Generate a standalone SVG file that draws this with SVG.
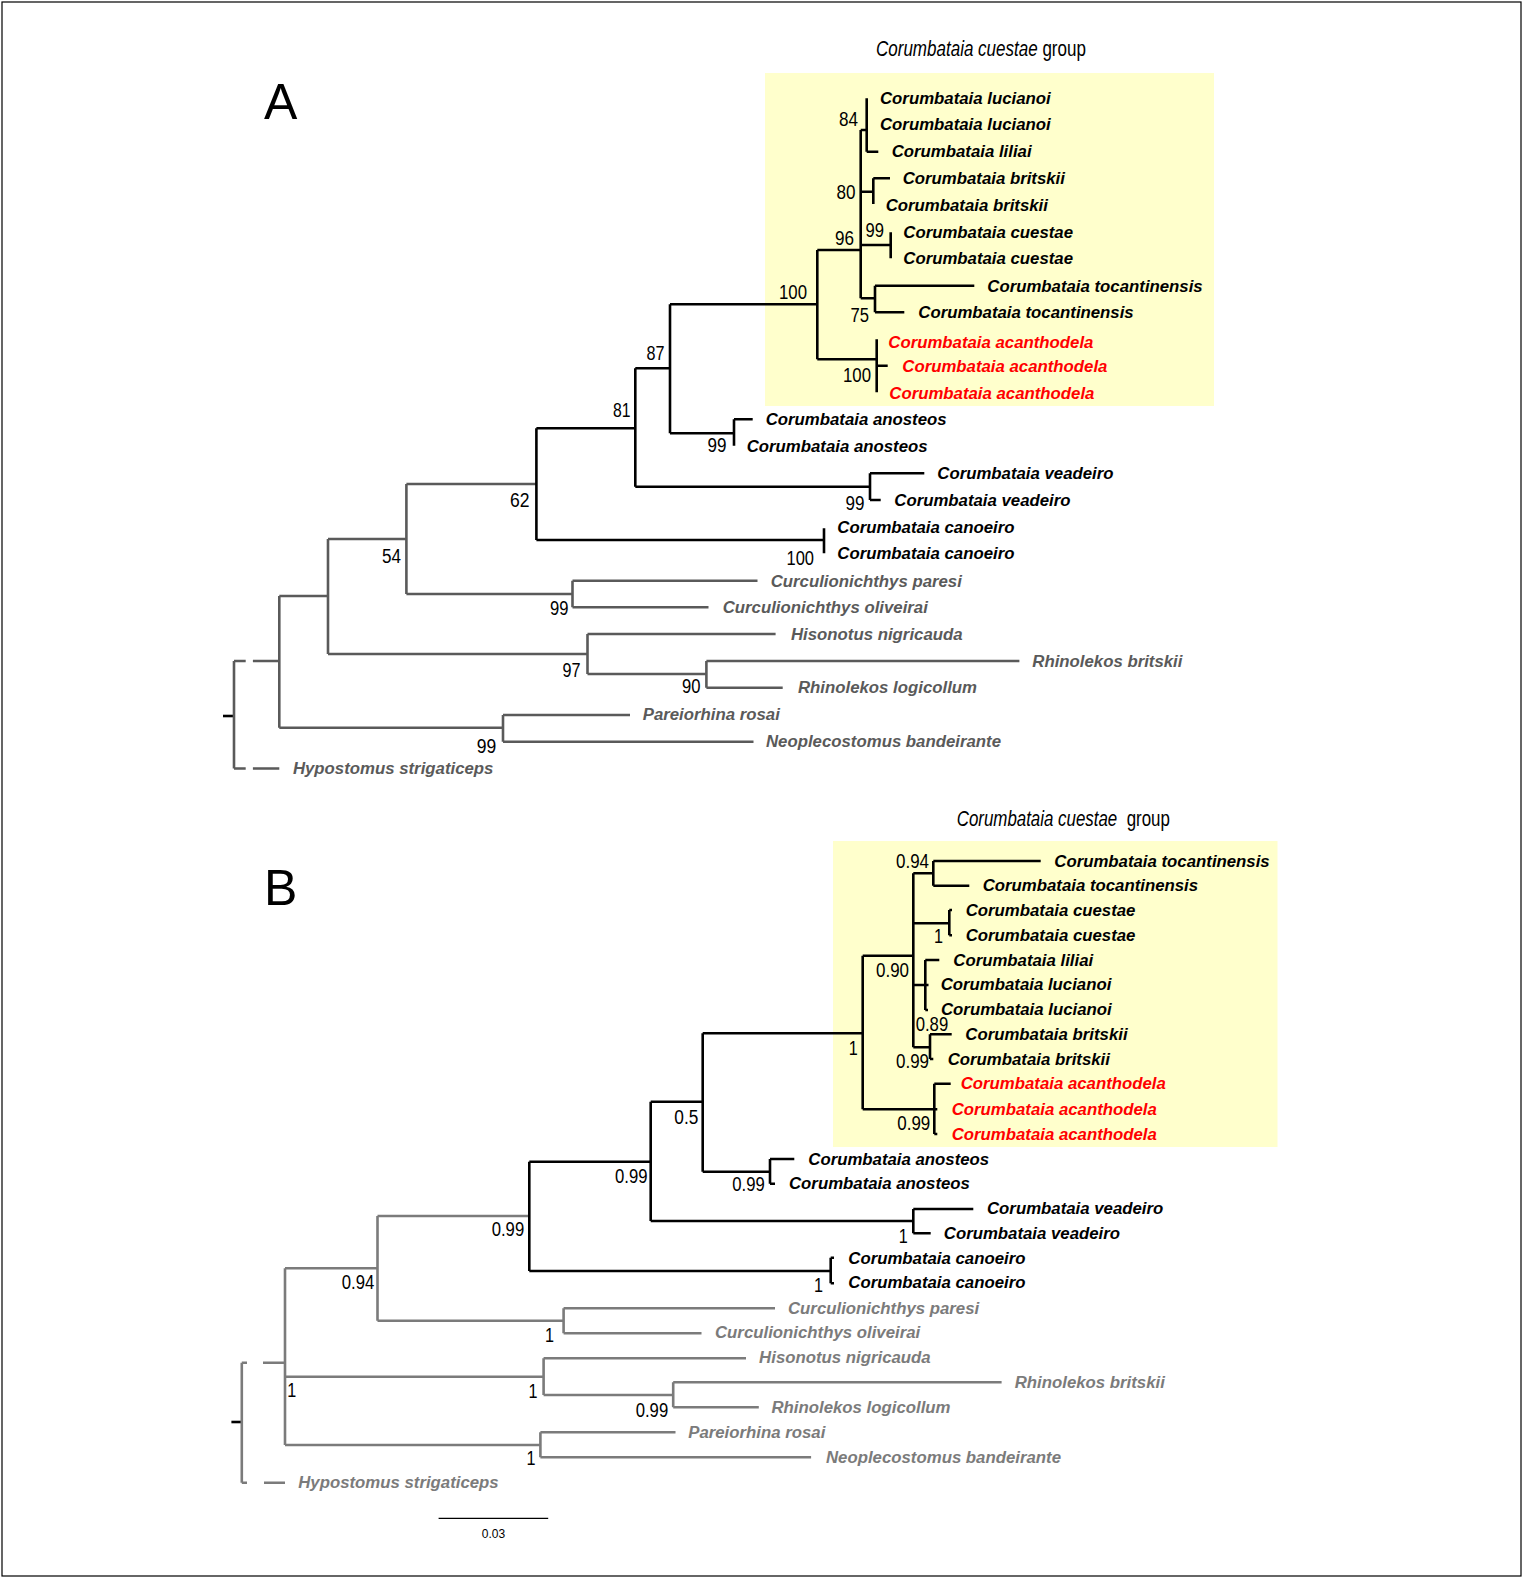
<svg xmlns="http://www.w3.org/2000/svg" width="1523" height="1579" viewBox="0 0 1523 1579">
<style>
.k{fill:none;stroke:#000;stroke-width:2.6}
.g{fill:none;stroke:#5a5a5a;stroke-width:2.6}
.g2{fill:none;stroke:#7b7b7b;stroke-width:2.6}
.t{font-family:"Liberation Sans",Arial,sans-serif;font-weight:bold;font-style:italic;font-size:16.8px;fill:#000}
.r{fill:#ff0000}
.ga{fill:#5a5a5a}
.gb{fill:#7b7b7b}
.n{font-family:"Liberation Sans",Arial,sans-serif;font-size:20px;fill:#000}
.ti{font-family:"Liberation Sans",Arial,sans-serif;font-size:22px;fill:#000}
.big{font-family:"Liberation Sans",Arial,sans-serif;font-size:50px;fill:#000}
</style>
<rect x="0" y="0" width="1523" height="1579" fill="#fff"/>
<rect x="2" y="2" width="1519" height="1574" fill="none" stroke="#000" stroke-width="1.2"/>

<!-- Panel A -->
<rect x="765" y="73" width="449" height="333" fill="#ffffcc"/>
<text class="big" x="264" y="119">A</text>
<text class="ti" transform="translate(876,56) scale(0.7735,1)"><tspan font-style="italic">Corumbataia cuestae</tspan> group</text>

<g id="connectors-A">
<path class="k" d="M223,716H234"/>
<path class="g" d="M234,661V768.5M234,661H245.7M252.9,661H279.3M234,768.5H245.7M252.9,768.5H279.3
M279.3,596V727.7M279.3,596H328M328,539V654M328,539H406.4M406.4,484V594M406.4,484H536.4
M406.4,594H572.5M572.5,580.7V607.3M572.5,580.7H757.5M572.5,607.3H708.5
M328,654H587.5M587.5,634V674M587.5,634H775.6M587.5,674H706.4M706.4,661V687.7M706.4,661H1019.4M706.4,687.7H782.7
M279.3,727.7H503M503,715V741.7M503,715H630M503,741.7H753.5"/>
<path class="k" d="M536.4,428.3V540M536.4,428.3H635.3M536.4,540H824M824,528.3V553.3
M635.3,368.3V486.7M635.3,368.3H670M635.3,486.7H870M870,473.3V500M870,473.3H924.3M870,500H880.7
M670,304.3V433.3M670,304.3H817.3M670,433.3H734M734,419.3V445.7M734,419.3H752.7
M817.3,250V359.3M817.3,250H860.7M817.3,359.3H876.7
M860.7,130V298.3M860.7,130H866.7M866.7,98.3V151.7M866.7,151.7H878.3
M860.7,191.7H873.3M873.3,178.3V204M873.3,178.3H890
M860.7,245H890.7M890.7,232.3V258.3
M860.7,298.3H875M875,285.7V312.3M875,285.7H974.3M875,312.3H904.3
M876.7,339.3V392.3M876.7,365.7H887.7"/>
</g>

<g id="support-A">
<text class="n" x="839" y="126" textLength="19" lengthAdjust="spacingAndGlyphs">84</text>
<text class="n" x="836.5" y="199" textLength="19" lengthAdjust="spacingAndGlyphs">80</text>
<text class="n" x="835" y="245" textLength="19" lengthAdjust="spacingAndGlyphs">96</text>
<text class="n" x="865.5" y="237" textLength="18.5" lengthAdjust="spacingAndGlyphs">99</text>
<text class="n" x="779" y="299" textLength="28" lengthAdjust="spacingAndGlyphs">100</text>
<text class="n" x="850.5" y="321.7" textLength="18.5" lengthAdjust="spacingAndGlyphs">75</text>
<text class="n" x="843" y="381.7" textLength="28" lengthAdjust="spacingAndGlyphs">100</text>
<text class="n" x="646.5" y="360" textLength="18" lengthAdjust="spacingAndGlyphs">87</text>
<text class="n" x="613" y="417" textLength="17.5" lengthAdjust="spacingAndGlyphs">81</text>
<text class="n" x="707.5" y="451.7" textLength="19" lengthAdjust="spacingAndGlyphs">99</text>
<text class="n" x="845.5" y="510" textLength="19" lengthAdjust="spacingAndGlyphs">99</text>
<text class="n" x="510" y="507" textLength="19.5" lengthAdjust="spacingAndGlyphs">62</text>
<text class="n" x="786.5" y="565" textLength="27.5" lengthAdjust="spacingAndGlyphs">100</text>
<text class="n" x="382" y="563" textLength="19" lengthAdjust="spacingAndGlyphs">54</text>
<text class="n" x="550" y="615" textLength="18.5" lengthAdjust="spacingAndGlyphs">99</text>
<text class="n" x="562.5" y="676.7" textLength="18" lengthAdjust="spacingAndGlyphs">97</text>
<text class="n" x="682" y="693" textLength="18.5" lengthAdjust="spacingAndGlyphs">90</text>
<text class="n" x="476.8" y="753" textLength="19.5" lengthAdjust="spacingAndGlyphs">99</text>
</g>

<g id="A-lucianoi-1"><text class="t" x="880" y="104">Corumbataia lucianoi</text></g>
<g id="A-lucianoi-2"><text class="t" x="880" y="130">Corumbataia lucianoi</text></g>
<g id="A-liliai"><text class="t" x="891.7" y="157">Corumbataia liliai</text></g>
<g id="A-britskii-1"><text class="t" x="902.7" y="184">Corumbataia britskii</text></g>
<g id="A-britskii-2"><text class="t" x="885.7" y="210.5">Corumbataia britskii</text></g>
<g id="A-cuestae-1"><text class="t" x="903.3" y="237.5">Corumbataia cuestae</text></g>
<g id="A-cuestae-2"><text class="t" x="903.3" y="264">Corumbataia cuestae</text></g>
<g id="A-tocantinensis-1"><text class="t" x="987.3" y="291.5">Corumbataia tocantinensis</text></g>
<g id="A-tocantinensis-2"><text class="t" x="918.3" y="318">Corumbataia tocantinensis</text></g>
<g id="A-acanthodela-1"><text class="t r" x="888.3" y="347.5">Corumbataia acanthodela</text></g>
<g id="A-acanthodela-2"><text class="t r" x="902.3" y="371.5">Corumbataia acanthodela</text></g>
<g id="A-acanthodela-3"><text class="t r" x="889.3" y="398.5">Corumbataia acanthodela</text></g>
<g id="A-anosteos-1"><text class="t" x="765.7" y="425">Corumbataia anosteos</text></g>
<g id="A-anosteos-2"><text class="t" x="746.7" y="452">Corumbataia anosteos</text></g>
<g id="A-veadeiro-1"><text class="t" x="937.3" y="479">Corumbataia veadeiro</text></g>
<g id="A-veadeiro-2"><text class="t" x="894.3" y="506">Corumbataia veadeiro</text></g>
<g id="A-canoeiro-1"><text class="t" x="837.3" y="532.5">Corumbataia canoeiro</text></g>
<g id="A-canoeiro-2"><text class="t" x="837.3" y="559">Corumbataia canoeiro</text></g>
<g id="A-paresi"><text class="t ga" x="770.7" y="586.5">Curculionichthys paresi</text></g>
<g id="A-oliveirai"><text class="t ga" x="722.7" y="613">Curculionichthys oliveirai</text></g>
<g id="A-hisonotus"><text class="t ga" x="791" y="640">Hisonotus nigricauda</text></g>
<g id="A-rhinolekos-britskii"><text class="t ga" x="1032.3" y="666.5">Rhinolekos britskii</text></g>
<g id="A-rhinolekos-logicollum"><text class="t ga" x="798" y="693">Rhinolekos logicollum</text></g>
<g id="A-pareiorhina"><text class="t ga" x="642.7" y="720">Pareiorhina rosai</text></g>
<g id="A-neoplecostomus"><text class="t ga" x="766" y="747">Neoplecostomus bandeirante</text></g>
<g id="A-hypostomus"><text class="t ga" x="292.9" y="774">Hypostomus strigaticeps</text></g>

<!-- Panel B -->
<rect x="833" y="841" width="444.5" height="306" fill="#ffffcc"/>
<text class="big" x="264" y="905">B</text>
<text class="ti" transform="translate(956.7,826) scale(0.768,1)"><tspan font-style="italic">Corumbataia cuestae</tspan>&#160; group</text>

<g id="connectors-B">
<path class="k" d="M231.4,1422H241.8"/>
<path class="g2" d="M241.8,1362.7V1482.7M241.8,1362.7H247M263,1362.7H285M241.8,1482.7H247M264,1482.7H285
M285,1268.3V1445M285,1268.3H377.5M377.5,1216V1320.7M377.5,1216H529.3
M377.5,1320.7H563.6M563.6,1308.3V1333.3M563.6,1308.3H775M563.6,1333.3H701.5
M285,1376.7H543.6M543.6,1358.3V1395M543.6,1358.3H746M543.6,1395H673.2
M673.2,1382.3V1407.3M673.2,1382.3H1001.6M673.2,1407.3H758.8
M285,1445H540.4M540.4,1432.3V1457.3M540.4,1432.3H675.5M540.4,1457.3H811.1"/>
<path class="k" d="M529.3,1161.7V1271M529.3,1161.7H650.7M650.7,1101.7V1221
M529.3,1271H830.7M830.7,1257.7V1283.3M830.7,1257.7H834M830.7,1283.3H834
M650.7,1101.7H702.7M702.7,1033.3V1171.7
M650.7,1221H913.3M913.3,1209V1233.3M913.3,1209H973.3M913.3,1233.3H930.7
M702.7,1171.7H770M770,1159V1183.7M770,1159H794.3M770,1183.7H775
M702.7,1033.3H862.7M862.7,955.7V1109.3
M862.7,955.7H913.3M913.3,873.3V1047.3
M913.3,873.3H933.3M933.3,861V885.7M933.3,861H1040.7M933.3,885.7H969.3
M913.3,923.3H949.3M949.3,910V935.3M949.3,910H952M949.3,935.3H952
M913.3,985H928.5M925.3,960V1010M925.3,960H939.3M925.3,1010H928
M913.3,1047.3H930M930,1034.3V1059M930,1034.3H951.7M930,1059H933.3
M862.7,1109.3H937.3M934.3,1083.7V1134M934.3,1083.7H950.7M934.3,1134H937.3"/>
</g>

<g id="support-B">
<text class="n" x="896" y="868.3" textLength="33" lengthAdjust="spacingAndGlyphs">0.94</text>
<text class="n" x="934" y="942.7" textLength="9" lengthAdjust="spacingAndGlyphs">1</text>
<text class="n" x="876" y="976.7" textLength="33" lengthAdjust="spacingAndGlyphs">0.90</text>
<text class="n" x="915.7" y="1031" textLength="32.5" lengthAdjust="spacingAndGlyphs">0.89</text>
<text class="n" x="896" y="1068.3" textLength="33" lengthAdjust="spacingAndGlyphs">0.99</text>
<text class="n" x="848.7" y="1055" textLength="9" lengthAdjust="spacingAndGlyphs">1</text>
<text class="n" x="897.3" y="1130" textLength="33" lengthAdjust="spacingAndGlyphs">0.99</text>
<text class="n" x="674.3" y="1124" textLength="24" lengthAdjust="spacingAndGlyphs">0.5</text>
<text class="n" x="732.3" y="1190.7" textLength="32.5" lengthAdjust="spacingAndGlyphs">0.99</text>
<text class="n" x="615" y="1182.7" textLength="32.5" lengthAdjust="spacingAndGlyphs">0.99</text>
<text class="n" x="898.7" y="1242.7" textLength="9" lengthAdjust="spacingAndGlyphs">1</text>
<text class="n" x="491.7" y="1236" textLength="32.5" lengthAdjust="spacingAndGlyphs">0.99</text>
<text class="n" x="814" y="1291.7" textLength="9" lengthAdjust="spacingAndGlyphs">1</text>
<text class="n" x="341.8" y="1289.3" textLength="32.5" lengthAdjust="spacingAndGlyphs">0.94</text>
<text class="n" x="545" y="1341.7" textLength="9" lengthAdjust="spacingAndGlyphs">1</text>
<text class="n" x="287.3" y="1397" textLength="9" lengthAdjust="spacingAndGlyphs">1</text>
<text class="n" x="528.4" y="1398" textLength="9" lengthAdjust="spacingAndGlyphs">1</text>
<text class="n" x="635.7" y="1416.7" textLength="32.5" lengthAdjust="spacingAndGlyphs">0.99</text>
<text class="n" x="526.6" y="1465" textLength="9" lengthAdjust="spacingAndGlyphs">1</text>
</g>

<g id="B-tocantinensis-1"><text class="t" x="1054.3" y="866.5">Corumbataia tocantinensis</text></g>
<g id="B-tocantinensis-2"><text class="t" x="982.7" y="891">Corumbataia tocantinensis</text></g>
<g id="B-cuestae-1"><text class="t" x="965.7" y="916">Corumbataia cuestae</text></g>
<g id="B-cuestae-2"><text class="t" x="965.7" y="941">Corumbataia cuestae</text></g>
<g id="B-liliai"><text class="t" x="953.3" y="965.5">Corumbataia liliai</text></g>
<g id="B-lucianoi-1"><text class="t" x="940.7" y="990">Corumbataia lucianoi</text></g>
<g id="B-lucianoi-2"><text class="t" x="941" y="1014.5">Corumbataia lucianoi</text></g>
<g id="B-britskii-1"><text class="t" x="965.3" y="1040">Corumbataia britskii</text></g>
<g id="B-britskii-2"><text class="t" x="947.7" y="1064.5">Corumbataia britskii</text></g>
<g id="B-acanthodela-1"><text class="t r" x="960.7" y="1089">Corumbataia acanthodela</text></g>
<g id="B-acanthodela-2"><text class="t r" x="951.7" y="1114.5">Corumbataia acanthodela</text></g>
<g id="B-acanthodela-3"><text class="t r" x="951.7" y="1139.5">Corumbataia acanthodela</text></g>
<g id="B-anosteos-1"><text class="t" x="808.3" y="1164.5">Corumbataia anosteos</text></g>
<g id="B-anosteos-2"><text class="t" x="789" y="1189">Corumbataia anosteos</text></g>
<g id="B-veadeiro-1"><text class="t" x="987" y="1213.5">Corumbataia veadeiro</text></g>
<g id="B-veadeiro-2"><text class="t" x="943.8" y="1238.5">Corumbataia veadeiro</text></g>
<g id="B-canoeiro-1"><text class="t" x="848.3" y="1264">Corumbataia canoeiro</text></g>
<g id="B-canoeiro-2"><text class="t" x="848.3" y="1288">Corumbataia canoeiro</text></g>
<g id="B-paresi"><text class="t gb" x="788" y="1314">Curculionichthys paresi</text></g>
<g id="B-oliveirai"><text class="t gb" x="715" y="1338">Curculionichthys oliveirai</text></g>
<g id="B-hisonotus"><text class="t gb" x="759.1" y="1363">Hisonotus nigricauda</text></g>
<g id="B-rhinolekos-britskii"><text class="t gb" x="1014.7" y="1388">Rhinolekos britskii</text></g>
<g id="B-rhinolekos-logicollum"><text class="t gb" x="771.5" y="1413">Rhinolekos logicollum</text></g>
<g id="B-pareiorhina"><text class="t gb" x="688.2" y="1438">Pareiorhina rosai</text></g>
<g id="B-neoplecostomus"><text class="t gb" x="826" y="1463">Neoplecostomus bandeirante</text></g>
<g id="B-hypostomus"><text class="t gb" x="298.2" y="1488">Hypostomus strigaticeps</text></g>

<g id="scale-bar">
<path d="M438.6,1518.3H548.2" stroke="#000" stroke-width="1.3" fill="none"/>
<text x="493.5" y="1538" text-anchor="middle" font-family="Liberation Sans, Arial, sans-serif" font-size="12">0.03</text>
</g>
</svg>
